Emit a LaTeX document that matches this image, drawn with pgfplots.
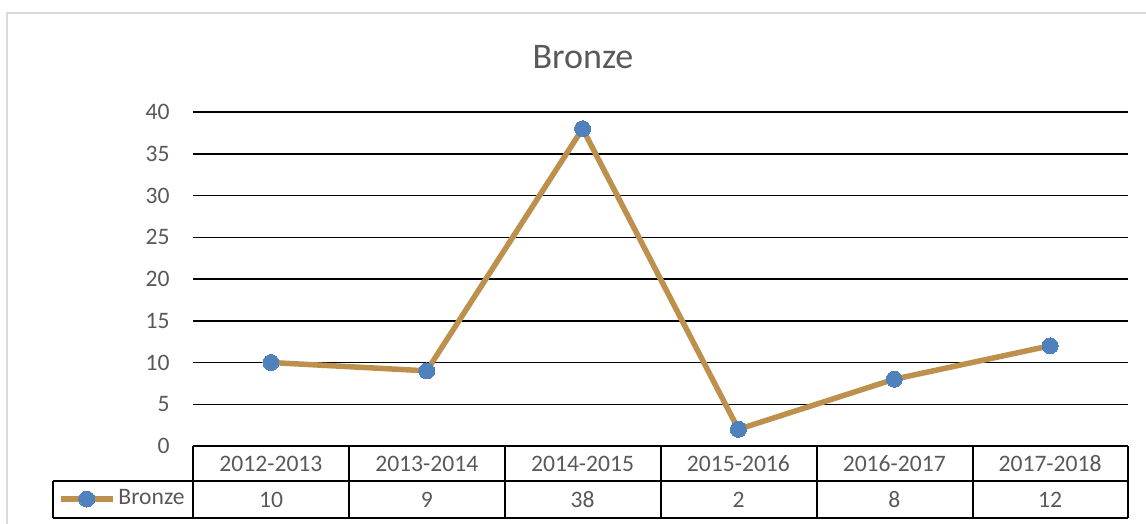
\documentclass[border=0pt]{standalone}
\usepackage{pgfplots}
\pgfplotsset{compat=1.18}
\usepackage{fontspec}
\setmainfont{Carlito}
\definecolor{bronze}{RGB}{190,144,78}
\definecolor{mblue}{RGB}{79,129,189}
\definecolor{tgray}{RGB}{89,89,89}
\definecolor{fgray}{RGB}{217,217,217}
\pgfplotstableread{
x y
0 10
1 9
2 38
3 2
4 8
5 12
}\bronzedata
\begin{document}
\fontsize{11.8}{14}\selectfont
\begin{tikzpicture}
\begin{scope}[x=0.5pt,y=-0.5pt]
\useasboundingbox (0,0) rectangle (1146,524);
\draw[fgray, line width=0.75pt] (7,524) -- (7,13) -- (1146,13);
\node[text=tgray, font=\fontsize{18}{20}\selectfont] at (583,57) {Bronze};
\end{scope}
\begin{axis}[
  at={(96.5pt,-223pt)}, anchor=south west,
  scale only axis, width=467.5pt, height=167pt,
  xmin=-0.5, xmax=5.5, ymin=0, ymax=40,
  ytick={0,5,...,40},
  xtick={0,...,5},
  xticklabels={2012-2013,2013-2014,2014-2015,2015-2016,2016-2017,2017-2018},
  axis line style={draw=none},
  major tick length=0pt,
  ymajorgrids, grid style={black, line width=0.75pt},
  tick label style={text=tgray, font=\fontsize{11.8}{14}\selectfont},
  /pgf/number format/assume math mode=true,
  xticklabel style={anchor=center, yshift=-8.75pt},
  yticklabel style={anchor=east, inner sep=0pt, xshift=-11.5pt},
  clip=false,
  legend style={draw=none, fill=none, inner sep=0pt, outer sep=0pt,
    at={(-0.1444,-0.1587)}, anchor=west, font=\fontsize{11.8}{14}\selectfont, text=tgray,
    nodes={inner sep=1.5pt}},
  legend image code/.code={\draw[mark repeat=2,mark phase=2] plot coordinates {(0pt,0pt) (13pt,0pt) (26pt,0pt)};},
]
\addplot[bronze, line width=2.75pt, mark=*, mark size=4pt,
  mark options={draw=mblue, fill=mblue, line width=0pt}] table[x=x,y=y] {\bronzedata};
\addlegendentry{Bronze}
\end{axis}
\begin{scope}[x=0.5pt,y=-0.5pt]
\foreach \i/\v in {0/10,1/9,2/38,3/2,4/8,5/12}{
  \node[text=tgray] at ({271+155.83*\i},499.5) {\v};
}
\draw[black, line width=1pt] (193,446) -- (1128,446);
\draw[black, line width=1pt] (53,481) -- (1128,481);
\draw[black, line width=1pt] (53,518) -- (1128,518);
\draw[black, line width=1pt] (53,481) -- (53,518);
\foreach \xx in {193,349,505,661,817,973,1128}{
  \draw[black, line width=1pt] (\xx,446) -- (\xx,518);
}
\end{scope}
\end{tikzpicture}
\end{document}
